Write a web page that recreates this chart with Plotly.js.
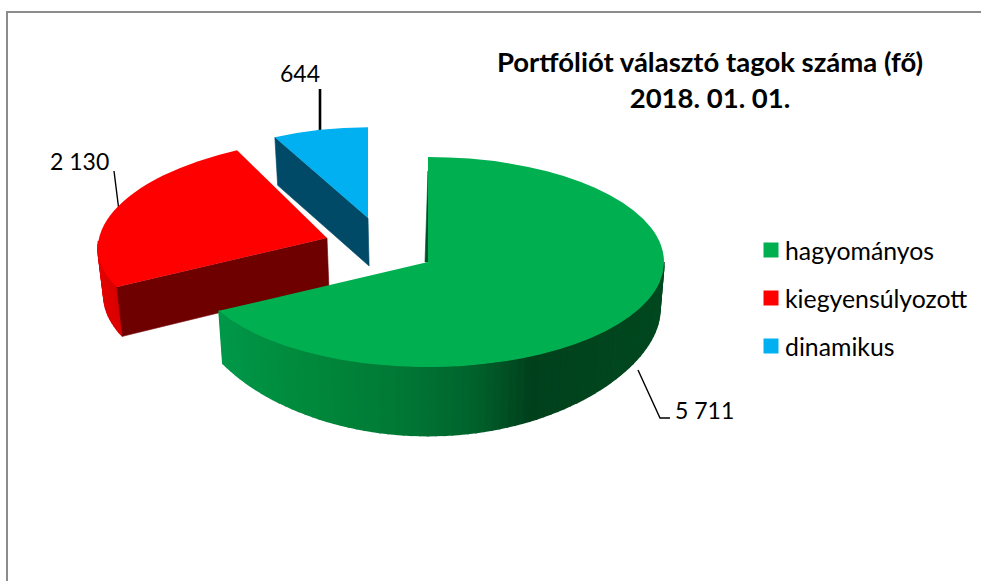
<!DOCTYPE html>
<html><head><meta charset="utf-8">
<script src="https://cdn.plot.ly/plotly-3.0.1.min.js"></script>
<style>html,body{margin:0;padding:0;background:#fff}#c{width:981px;height:581px}</style>
</head><body><div id="c"></div>
<script>
const categories = ['hagyományos', 'kiegyensúlyozott', 'dinamikus'];
const members = [5711, 2130, 644];
const topColors = ['#00B050', '#FF0000', '#00B0F0'];
const chartTitle = 'Portfóliót választó tagok száma (fő)<br>2018. 01. 01.';

const W = 981, H = 581;
const cx = 381, cy = 249.5, R = 236, tilt = 0.445, pull = 0.233, domainSide = 400;
// apex of each exploded slice and the foreshortening of the 3-D view
const view = [
  {tip: [428, 262], m: [1, 0, 0, 1]},
  {tip: [327, 238], m: [0.968, -0.16, -0.012, 0.955]},
  {tip: [368, 218], m: [0.86, 0, 0, 0.865]}
];
const total = members.reduce((a, b) => a + b, 0);
const deg = Math.PI / 180;
let acc = 0;
const slices = members.map((v, i) => {
  const s = acc; acc += v / total * 360;
  return {start: s, end: acc, mid: s + (acc - s) / 2, tip: view[i].tip, m: view[i].m};
});
const topPt = (s, a) => {
  const u = R * Math.sin(a * deg), v = -R * tilt * Math.cos(a * deg);
  return [s.tip[0] + s.m[0] * u + s.m[1] * v, s.tip[1] + s.m[2] * u + s.m[3] * v];
};
const drop = p => {
  const t = Math.max(0, (p[1] - 262) / 106);
  return [p[0] - (p[0] - 430) * 0.018, p[1] + 48 + 21 * t * t];
};
const hex = h => [1, 3, 5].map(i => parseInt(h.substr(i, 2), 16));
const mix = (stops, x) => {
  let i = 0;
  while (i < stops.length - 2 && x > stops[i + 1][0]) i++;
  const [x0, c0] = stops[i], [x1, c1] = stops[i + 1];
  const t = Math.min(1, Math.max(0, (x - x0) / (x1 - x0)));
  const a = hex(c0), b = hex(c1);
  return 'rgb(' + a.map((v, k) => Math.round(v + (b[k] - v) * t)).join(',') + ')';
};
const traces = [];
const poly = (pts, color, lw) => traces.push({
  type: 'scatter', mode: 'lines', x: pts.map(p => p[0]).concat(pts[0][0]), y: pts.map(p => p[1]).concat(pts[0][1]),
  fill: 'toself', fillcolor: color, line: {color: color, width: lw === undefined ? 0.6 : lw}, hoverinfo: 'skip', showlegend: false
});
const rim = (s, a0, a1, stops) => {
  const step = 2;
  for (let a = a0; a < a1; a += step) {
    const b = Math.min(a1, a + step), p = topPt(s, a), q = topPt(s, b);
    poly([p, q, drop(q), drop(p)], mix(stops, (p[0] + q[0]) / 2), 1.6);
  }
};
const [green, red, blue] = slices;
const blueEdge = topPt(blue, blue.start);
poly([blue.tip, blueEdge, drop(blueEdge), drop(blue.tip)], '#004A68');
const redEdge = topPt(red, red.start);
rim(red, red.start, 270, [[90, '#E80000'], [130, '#D00000']]);
poly([red.tip, redEdge, drop(redEdge), drop(red.tip)], '#6E0000');
rim(green, 90, green.end, [[215, '#00984A'], [300, '#008A3C'], [400, '#007835'], [470, '#00642C'], [530, '#00411C'], [664, '#00481F']]);
const gTop = topPt(green, 0);
poly([[gTop[0], gTop[1] + 14], green.tip, [green.tip[0] - 3, green.tip[1]]], '#00502A');

const leaders = [
  {x: [320, 320], y: [89, 131], w: 2.6},
  {x: [114, 118.5], y: [171, 207], w: 1.4},
  {x: [638, 660, 670], y: [370, 418, 418], w: 1.4}
];
leaders.forEach(l => traces.push({type: 'scatter', mode: 'lines', x: l.x, y: l.y, line: {color: '#000', width: l.w}, hoverinfo: 'skip', showlegend: false}));

traces.push({
  type: 'pie', labels: categories, values: members, sort: false, direction: 'clockwise', rotation: 0,
  pull: members.map(() => pull), marker: {colors: topColors, line: {width: 0}}, textinfo: 'none', hoverinfo: 'label+value',
  domain: {x: [(cx - domainSide / 2) / W, (cx + domainSide / 2) / W], y: [1 - (cy + domainSide / 2) / H, 1 - (cy - domainSide / 2) / H]}
});

const fmt = v => String(v).replace(/\B(?=(\d{3})+$)/g, ' ');
const labelPos = [[704, 409.5], [79, 161], [300, 73]];
const font = 'Lato, Carlito, sans-serif';
const layout = {
  width: W, height: H, margin: {l: 0, r: 0, t: 0, b: 0}, paper_bgcolor: '#fff', plot_bgcolor: '#fff',
  font: {family: font, color: '#000'},
  title: {text: chartTitle, font: {family: font, size: 27.5, color: '#000', weight: 'bold'}, x: 710 / W, xanchor: 'center', y: 1 - 72 / H, yanchor: 'top', automargin: false, pad: {t: 0}},
  xaxis: {range: [0, W], visible: false, fixedrange: true},
  yaxis: {range: [H, 0], visible: false, fixedrange: true},
  showlegend: true,
  legend: {x: 745 / W, y: 1 - 232 / H, xanchor: 'left', yanchor: 'top', font: {family: font, size: 24.8, color: '#000'}, bgcolor: 'rgba(0,0,0,0)', traceorder: 'normal'},
  annotations: members.map((v, i) => ({xref: 'x', yref: 'y', x: labelPos[i][0], y: labelPos[i][1], text: fmt(v), showarrow: false, font: {family: font, size: 23, color: '#000'}})),
  shapes: [
    {type: 'line', xref: 'x', yref: 'y', x0: 7, x1: 7, y0: 12, y1: H, line: {color: '#8C8C8C', width: 2}},
    {type: 'line', xref: 'x', yref: 'y', x0: 6, x1: W, y0: 12, y1: 12, line: {color: '#8C8C8C', width: 2}}
  ]
};
const gd = document.getElementById('c');
Plotly.newPlot(gd, traces, layout, {displayModeBar: false}).then(() => {
  const r0 = (domainSide / 2) / (1 + pull);
  const sx = R / r0, sy = R * tilt / r0;
  gd.querySelectorAll('.pielayer .slice').forEach((el, i) => {
    const s = slices[i];
    const tx0 = cx + pull * r0 * Math.sin(s.mid * deg), ty0 = cy - pull * r0 * Math.cos(s.mid * deg);
    const a = s.m[0] * sx, b = s.m[2] * sx, c = s.m[1] * sy, d = s.m[3] * sy;
    const e = s.tip[0] - a * tx0 - c * ty0, f = s.tip[1] - b * tx0 - d * ty0;
    el.setAttribute('transform', `matrix(${a},${b},${c},${d},${e},${f})`);
  });
  const ys = [18, 66, 114];
  gd.querySelectorAll('.legend .traces').forEach((t, i) => {
    t.setAttribute('transform', `translate(0,${ys[i]})`);
    const sw = t.querySelector('.legendpie path, .legendpoints path');
    if (sw) sw.setAttribute('d', 'M7.5,7.5H-7.5V-7.5H7.5Z');
    const sym = t.querySelector('.legendsymbols');
    if (sym) sym.setAttribute('transform', 'translate(6,0)');
  });
  const sb = gd.querySelector('.legend .scrollbox');
  if (sb) { sb.removeAttribute('clip-path'); sb.style.clipPath = 'none'; }
  const lg = gd.querySelector('.legend'); if (lg) lg.removeAttribute('clip-path');
});
</script></body></html>
